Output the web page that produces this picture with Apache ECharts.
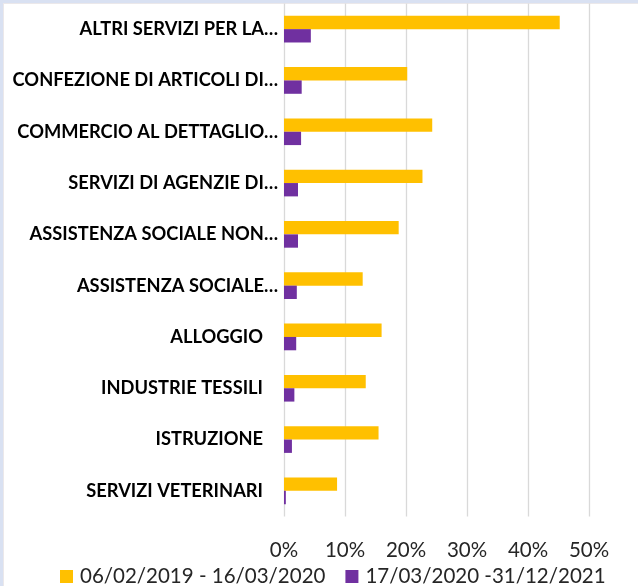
<!DOCTYPE html>
<html>
<head>
<meta charset="utf-8">
<script src="https://cdn.jsdelivr.net/npm/echarts@6/dist/echarts.min.js"></script>
<style>
  html, body { margin: 0; padding: 0; background: #ffffff; }
  #chart {
    width: 638px; height: 586px;
    box-shadow: inset 3px 3px 0 #d9e1f2, inset 4px 4px 0 #ebe8ea;
  }
</style>
</head>
<body>
<div id="chart"></div>
<script>
// Sector names (top to bottom), as shown on the axis
const categories = [
  'ALTRI SERVIZI PER LA…',
  'CONFEZIONE DI ARTICOLI DI…',
  'COMMERCIO AL DETTAGLIO…',
  'SERVIZI DI AGENZIE DI…',
  'ASSISTENZA SOCIALE NON…',
  'ASSISTENZA SOCIALE…',
  'ALLOGGIO',
  'INDUSTRIE TESSILI',
  'ISTRUZIONE',
  'SERVIZI VETERINARI'
];

// Percentages per period
const period1Name = '06/02/2019 - 16/03/2020';
const period1 = [45.2, 20.2, 24.3, 22.7, 18.8, 12.9, 16.0, 13.4, 15.5, 8.7];

const period2Name = '17/03/2020 -31/12/2021';
const period2 = [4.4, 2.9, 2.8, 2.3, 2.3, 2.1, 2.0, 1.7, 1.3, 0.3];

// Value axis ticks
const xMin = 0, xMax = 50, xStep = 10;

const chart = echarts.init(document.getElementById('chart'), null, { renderer: 'canvas' });

chart.setOption({
  animation: false,
  textStyle: { fontFamily: 'Lato' },
  grid: { left: 284, right: 49, top: 3.5, height: 513, containLabel: false },
  legend: {
    data: [period1Name, period2Name],
    left: 55, top: 561,
    icon: 'rect', itemWidth: 13, itemHeight: 13, itemGap: 20,
    textStyle: { fontFamily: 'Lato', fontSize: 20.5, color: '#262626', padding: [0, 0, 0, 2] }
  },
  xAxis: {
    type: 'value', min: xMin, max: xMax, interval: xStep,
    axisLine: { show: false }, axisTick: { show: false },
    splitLine: { lineStyle: { color: '#d9d9d9', width: 1.3 } },
    axisLabel: {
      formatter: '{value}%', margin: 23,
      fontFamily: 'Lato', fontSize: 20.5, color: '#262626'
    }
  },
  yAxis: {
    type: 'category', data: categories, inverse: true,
    axisLine: { show: false }, axisTick: { show: false },
    axisLabel: {
      margin: 6,
      formatter: v => v.endsWith('…') ? '{t|' + v + '}' : '{s|' + v + '}',
      rich: {
        t: { fontFamily: 'Lato', fontWeight: 'bold', fontSize: 18.3, color: '#000' },
        s: { fontFamily: 'Lato', fontWeight: 'bold', fontSize: 18.3, color: '#000', padding: [0, 15, 0, 0] }
      }
    }
  },
  series: [
    {
      name: period1Name, type: 'bar', data: period1,
      itemStyle: { color: '#ffc000' },
      barGap: '0%', barCategoryGap: '48%'
    },
    {
      name: period2Name, type: 'bar', data: period2,
      itemStyle: { color: '#7030a0' },
      barGap: '0%', barCategoryGap: '48%'
    }
  ]
});
</script>
</body>
</html>
